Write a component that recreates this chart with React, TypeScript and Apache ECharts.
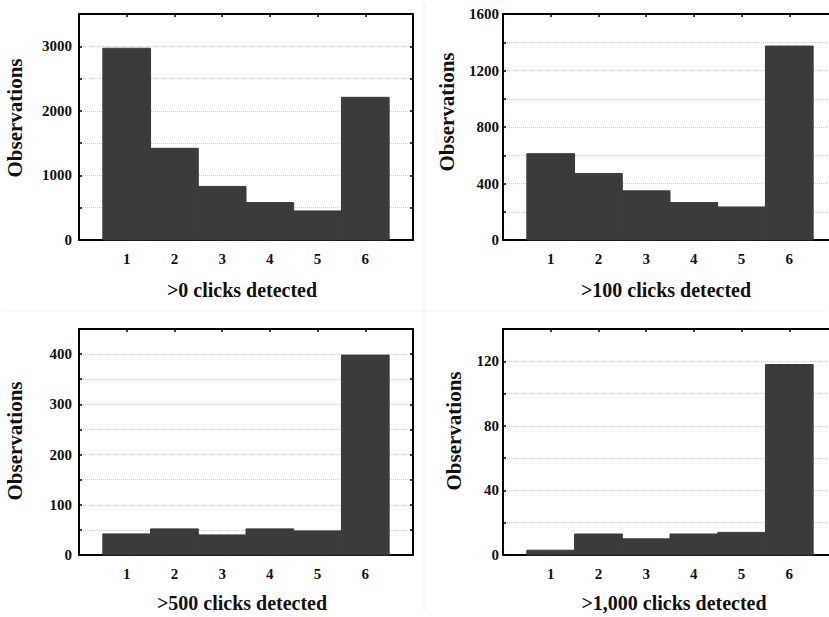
import React, { useEffect, useRef } from "react";
import * as echarts from "echarts";

const categories = [1, 2, 3, 4, 5, 6];
const obsOver0 = [2970, 1420, 830, 580, 450, 2210];
const obsOver100 = [611, 471, 348, 265, 234, 1373];
const obsOver500 = [42, 52, 40, 52, 48, 398];
const obsOver1000 = [3, 13, 10, 13, 14, 118];
const panelTitles = [">0 clicks detected", ">100 clicks detected", ">500 clicks detected", ">1,000 clicks detected"];
const yMax = [3500, 1600, 450, 140];
const yStep = [500, 200, 50, 20];
const yLabelStep = [1000, 400, 100, 40];

const FONT = "'Liberation Serif', 'DejaVu Serif', serif";

export default function App() {
  const ref = useRef<HTMLDivElement>(null);
  useEffect(() => {
    if (!ref.current) return;
    const chart = echarts.init(ref.current, null, { renderer: "svg" });
    const seriesData = [obsOver0, obsOver100, obsOver500, obsOver1000];
    const grids = [
      { left: 79, top: 14, width: 334, height: 226 },
      { left: 503, top: 14, width: 334, height: 226 },
      { left: 79, top: 329, width: 334, height: 226 },
      { left: 503, top: 329, width: 334, height: 226 },
    ];
    const labelMargin = [7, 4, 7, 4];
    const xAxis: any[] = [];
    const yAxis: any[] = [];
    const series: any[] = [];
    grids.forEach((g, i) => {
      xAxis.push({
        gridIndex: i,
        type: "value",
        min: 0,
        max: 7,
        interval: 1,
        position: "bottom",
        axisLine: { show: true, onZero: false, lineStyle: { color: "#000", width: 2 } },
        axisTick: { show: true, inside: true, length: 3, lineStyle: { color: "#000", width: 1.5 } },
        axisLabel: {
          show: true,
          margin: 11,
          fontFamily: FONT,
          fontWeight: "bold",
          fontSize: 15,
          color: "#111",
          formatter: (v: number) => (categories.includes(v) ? String(v) : ""),
        },
        splitLine: { show: false },
      });
      xAxis.push({
        gridIndex: i,
        type: "value",
        min: 0,
        max: 7,
        interval: 1,
        position: "top",
        axisLine: { show: true, onZero: false, lineStyle: { color: "#000", width: 2 } },
        axisTick: { show: true, inside: true, length: 3, lineStyle: { color: "#000", width: 1.5 } },
        axisLabel: { show: false },
        splitLine: { show: false },
      });
      yAxis.push({
        gridIndex: i,
        type: "value",
        min: 0,
        max: yMax[i],
        interval: yStep[i],
        position: "left",
        axisLine: { show: true, onZero: false, lineStyle: { color: "#000", width: 2 } },
        axisTick: { show: true, inside: true, length: 3, lineStyle: { color: "#000", width: 1.5 } },
        axisLabel: {
          margin: labelMargin[i],
          fontFamily: FONT,
          fontWeight: "bold",
          fontSize: 15,
          color: "#111",
          formatter: (v: number) => (v % yLabelStep[i] === 0 ? String(v) : ""),
        },
        splitLine: { show: true, lineStyle: { color: "#cfcfcf", type: "dotted", width: 1 } },
      });
      yAxis.push({
        gridIndex: i,
        type: "value",
        min: 0,
        max: yMax[i],
        interval: yStep[i],
        position: "right",
        axisLine: { show: true, onZero: false, lineStyle: { color: "#000", width: 2 } },
        axisTick: { show: true, inside: true, length: 3, lineStyle: { color: "#000", width: 1.5 } },
        axisLabel: { show: false },
        splitLine: { show: false },
      });
      series.push({
        type: "custom",
        xAxisIndex: i * 2,
        yAxisIndex: i * 2,
        data: categories.map((c, k) => [c, seriesData[i][k]]),
        renderItem: (params: any, api: any) => {
          const x = api.value(0);
          const y = api.value(1);
          const p1 = api.coord([x - 0.5, y]);
          const p2 = api.coord([x + 0.5, 0]);
          return {
            type: "rect",
            shape: { x: p1[0], y: p1[1], width: p2[0] - p1[0], height: p2[1] - p1[1] },
            style: { fill: "#3b3b3b", stroke: "#3b3b3b", lineWidth: 1 },
          };
        },
        z: 3,
      });
    });

    const titleStyle = { fontFamily: FONT, fontWeight: "bold", fontSize: 20, fill: "#111" };
    const graphic: any[] = [
      { type: "line", shape: { x1: 424, y1: 2, x2: 424, y2: 612 }, style: { stroke: "#f0f0f0", lineWidth: 1 }, silent: true, z: 0 },
      { type: "line", shape: { x1: 2, y1: 311, x2: 827, y2: 311 }, style: { stroke: "#f3f3f3", lineWidth: 1 }, silent: true, z: 0 },
    ];
    const titlePos = [
      [242, 290],
      [666, 290],
      [242, 603],
      [674, 603],
    ];
    const yNamePos = [
      [15, 118],
      [447, 112],
      [15, 441],
      [454, 431],
    ];
    panelTitles.forEach((t, i) => {
      graphic.push({
        type: "text",
        x: titlePos[i][0],
        y: titlePos[i][1],
        style: { ...titleStyle, text: t, align: "center", verticalAlign: "middle" },
      });
      graphic.push({
        type: "text",
        x: yNamePos[i][0],
        y: yNamePos[i][1],
        rotation: Math.PI / 2,
        style: { ...titleStyle, fontSize: 21, text: "Observations", align: "center", verticalAlign: "middle" },
      });
    });

    chart.setOption({
      animation: false,
      backgroundColor: "#fff",
      grid: grids.map((g) => ({ ...g, containLabel: false })),
      xAxis,
      yAxis,
      series,
      graphic,
    });
    return () => chart.dispose();
  }, []);
  return (
    <div style={{ position: "absolute", left: 0, top: 0, width: 829, height: 617, overflow: "hidden" }}>
      <div ref={ref} style={{ width: 850, height: 617 }} />
    </div>
  );
}
